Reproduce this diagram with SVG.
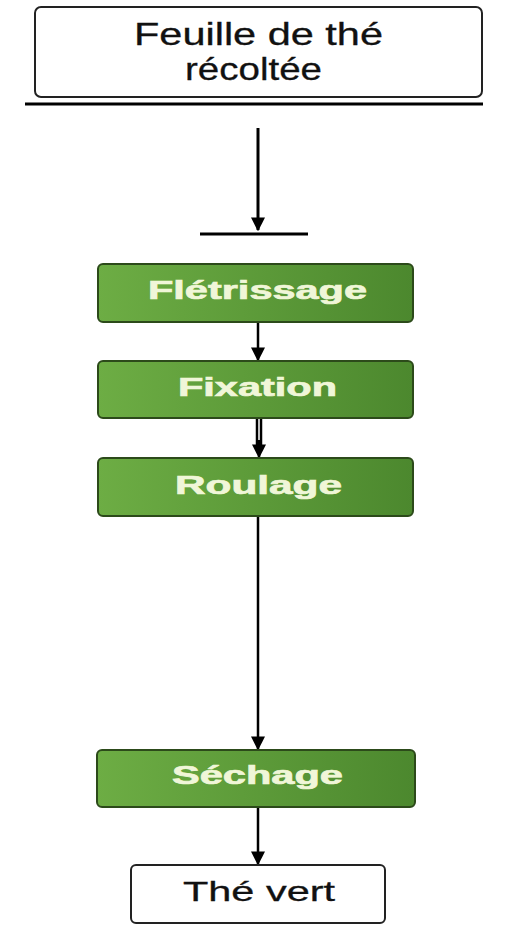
<svg xmlns="http://www.w3.org/2000/svg" width="508" height="930" viewBox="0 0 508 930">
  <defs>
    <linearGradient id="leaf" x1="0" y1="0" x2="1" y2="0">
      <stop offset="0" stop-color="#6dad44"/>
      <stop offset="1" stop-color="#4c882e"/>
    </linearGradient>
    <marker id="head" viewBox="0 0 10 10" refX="9" refY="5" markerWidth="14" markerHeight="14" markerUnits="userSpaceOnUse" orient="auto">
      <path d="M0,0 L10,5 L0,10 Z" fill="#000"/>
    </marker>
    <style>
      .white rect { fill: #fff; stroke: #222; stroke-width: 2; }
      .green rect { fill: url(#leaf); stroke: #2c4a1a; stroke-width: 2; }
      .white text { font-family: "Liberation Sans", Arial, sans-serif; font-size: 32px; fill: #111; stroke: #111; stroke-width: 0.3; }
      .green text { font-family: "Liberation Sans", Arial, sans-serif; font-size: 26px; font-weight: bold; fill: #f0f6d8; stroke: #f0f6d8; stroke-width: 0.7; }
      .edge { stroke: #000; stroke-width: 2.5; fill: none; }
      .rule { stroke: #000; stroke-width: 3; }
    </style>
  </defs>

  <g id="connectors">
    <line class="rule" x1="25" y1="104" x2="483" y2="104"/>
    <line class="edge" x1="258" y1="128" x2="258" y2="230" marker-end="url(#head)" style="stroke-width:3"/>
    <line class="rule" x1="200" y1="234" x2="308" y2="234"/>
    <line class="edge" x1="258" y1="322" x2="258" y2="360" marker-end="url(#head)"/>
    <line class="edge" x1="257" y1="418" x2="257" y2="450"/>
    <line class="edge" x1="261" y1="418" x2="261" y2="450"/>
    <line class="edge" x1="259" y1="440" x2="259" y2="457" marker-end="url(#head)"/>
    <line class="edge" x1="258" y1="516" x2="258" y2="749" marker-end="url(#head)"/>
    <line class="edge" x1="258" y1="807" x2="258" y2="864" marker-end="url(#head)"/>
  </g>

  <g id="feuille" class="white">
    <rect x="35" y="7" width="447" height="90" rx="6"/>
    <text x="134" y="45" textLength="249" lengthAdjust="spacingAndGlyphs">Feuille de thé</text>
    <text x="185" y="80" textLength="137" lengthAdjust="spacingAndGlyphs">récoltée</text>
  </g>

  <g id="fletrissage" class="green">
    <rect x="98" y="264" width="315" height="58" rx="5"/>
    <text x="148" y="299" textLength="219" lengthAdjust="spacingAndGlyphs">Flétrissage</text>
  </g>

  <g id="fixation" class="green">
    <rect x="98" y="361" width="315" height="57" rx="5"/>
    <text x="178" y="396" textLength="159" lengthAdjust="spacingAndGlyphs">Fixation</text>
  </g>

  <g id="roulage" class="green">
    <rect x="98" y="458" width="315" height="58" rx="5"/>
    <text x="175" y="494" textLength="167" lengthAdjust="spacingAndGlyphs">Roulage</text>
  </g>

  <g id="sechage" class="green">
    <rect x="97" y="750" width="318" height="57" rx="5"/>
    <text x="172" y="784" textLength="171" lengthAdjust="spacingAndGlyphs">Séchage</text>
  </g>

  <g id="the-vert" class="white">
    <rect x="131" y="865" width="254" height="58" rx="5"/>
    <text x="183" y="901" textLength="152" lengthAdjust="spacingAndGlyphs" style="font-size:28px">Thé vert</text>
  </g>
</svg>
